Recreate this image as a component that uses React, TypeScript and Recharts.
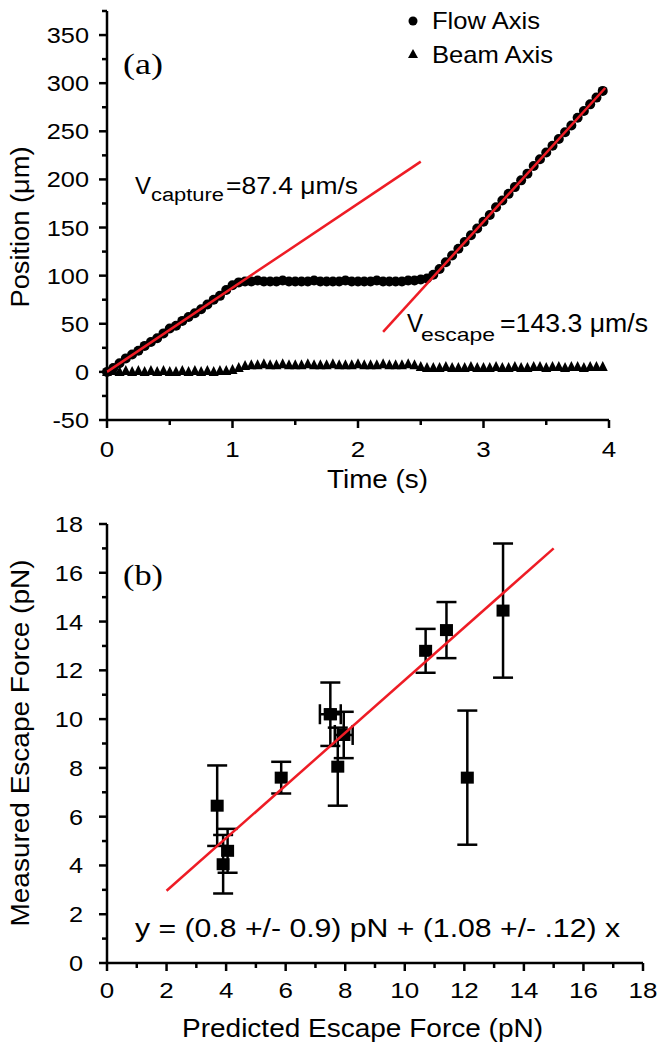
import React from 'react';
import { ScatterChart, Scatter, XAxis, YAxis, ErrorBar } from 'recharts';

// ---- panel (a): bead position vs time ----
const timeS = [
  0.0, 0.05, 0.1, 0.15, 0.2, 0.25, 0.3, 0.35, 0.4, 0.45,
  0.5, 0.55, 0.6, 0.65, 0.7, 0.75, 0.8, 0.85, 0.9, 0.95,
  1.0, 1.05, 1.1, 1.15, 1.2, 1.25, 1.3, 1.35, 1.4, 1.45,
  1.5, 1.55, 1.6, 1.65, 1.7, 1.75, 1.8, 1.85, 1.9, 1.95,
  2.0, 2.05, 2.1, 2.15, 2.2, 2.25, 2.3, 2.35, 2.4, 2.45,
  2.5, 2.55, 2.6, 2.65, 2.7, 2.75, 2.8, 2.85, 2.9, 2.95,
  3.0, 3.05, 3.1, 3.15, 3.2, 3.25, 3.3, 3.35, 3.4, 3.45,
  3.5, 3.55, 3.6, 3.65, 3.7, 3.75, 3.8, 3.85, 3.9, 3.95,
];
const flowPos = [
  0, 4, 9, 14, 18, 22, 27, 31, 35, 40,
  45, 48, 53, 57, 61, 65, 70, 75, 79, 85,
  90, 93, 94, 94, 95, 94, 94, 94, 95, 94,
  94, 94, 94, 95, 94, 94, 94, 94, 95, 94,
  94, 94, 94, 95, 94, 94, 94, 94, 95, 95,
  96, 97, 101, 107, 114, 121, 128, 135, 142, 149,
  156, 163, 171, 178, 185, 192, 199, 206, 214, 221,
  228, 235, 242, 249, 256, 264, 271, 278, 285, 292,
];
const beamPos = [
  0, 1, 0, 1, 0, 1, 0, 1, 0, 1,
  0, 0, 1, 0, 1, 0, 1, 0, 1, 1,
  2, 4, 6, 7, 7, 8, 7, 7, 8, 7,
  7, 7, 8, 7, 7, 7, 8, 7, 7, 7,
  8, 7, 7, 7, 8, 7, 7, 7, 8, 7,
  5, 4, 4, 4, 5, 4, 4, 4, 5, 4,
  4, 4, 5, 4, 4, 5, 4, 4, 5, 5,
  4, 5, 5, 4, 5, 5, 4, 5, 5, 5,
];
const captureFit = [{ x: 0, y: 0 }, { x: 2.5, y: 218.5 }];
const escapeFit = [{ x: 2.2, y: 41.5 }, { x: 3.97, y: 295 }];

const timeTicks = [0, 0.5, 1, 1.5, 2, 2.5, 3, 3.5, 4];
const timeMajor = [0, 1, 2, 3, 4];
const posTicks = [-50, -25, 0, 25, 50, 75, 100, 125, 150, 175, 200, 225, 250, 275, 300, 325, 350, 375];
const posMajor = [-50, 0, 50, 100, 150, 200, 250, 300, 350];

// ---- panel (b): measured vs predicted escape force ----
const predicted = [3.7, 3.9, 4.05, 5.85, 7.5, 7.75, 7.95, 10.7, 11.4, 12.1, 13.3];
const measured = [6.45, 4.05, 4.6, 7.6, 10.2, 8.05, 9.35, 12.8, 13.65, 7.6, 14.45];
const measuredErr = [1.65, 1.2, 0.9, 0.65, 1.3, 1.6, 0.95, 0.9, 1.15, 2.75, 2.75];
const predictedErr = [0, 0, 0, 0, 0.35, 0, 0.3, 0, 0, 0, 0];
const forceFit = [{ x: 2, y: 2.96 }, { x: 15, y: 17.0 }];

const forceTicks = [0, 1, 2, 3, 4, 5, 6, 7, 8, 9, 10, 11, 12, 13, 14, 15, 16, 17, 18];
const forceMajor = [0, 2, 4, 6, 8, 10, 12, 14, 16, 18];

const RED = '#ee1c25';
const SANS = '"Liberation Sans", Arial, sans-serif';

const flowData = timeS.map((t, i) => ({ x: t, y: flowPos[i] }));
const beamData = timeS.map((t, i) => ({ x: t, y: beamPos[i] }));
const forceData = predicted.map((p, i) => ({ x: p, y: measured[i], yErr: measuredErr[i] }));
const forceXErrData = predicted
  .map((p, i) => ({ x: p, y: measured[i], xErr: predictedErr[i] }))
  .filter((d) => d.xErr > 0);

const bottomTick = (majors: number[], off: number) => (props: any) => {
  const { x, y, payload } = props;
  const major = majors.includes(payload.value);
  return (
    <g>
      <line x1={x} y1={y} x2={x} y2={y + (major ? 8 : 5)} stroke="#000" strokeWidth={2.5} />
      {major && (
        <text transform={`translate(${x},${y + off}) scale(1.18,1)`} textAnchor="middle" fontSize={22} fontFamily={SANS} fill="#000">
          {payload.value}
        </text>
      )}
    </g>
  );
};

const leftTick = (majors: number[], off: number) => (props: any) => {
  const { x, y, payload } = props;
  const major = majors.includes(payload.value);
  return (
    <g>
      <line x1={x} y1={y} x2={x - (major ? 8 : 5)} y2={y} stroke="#000" strokeWidth={2.5} />
      {major && (
        <text transform={`translate(${x - off},${y + 8}) scale(1.15,1)`} textAnchor="end" fontSize={22} fontFamily={SANS} fill="#000">
          {payload.value}
        </text>
      )}
    </g>
  );
};

const Dot = (p: any) => <circle cx={p.cx} cy={p.cy} r={5} fill="#000" />;
const Tri = (p: any) => (
  <polygon points={`${p.cx},${p.cy - 6} ${p.cx - 5},${p.cy + 4} ${p.cx + 5},${p.cy + 4}`} fill="#000" />
);
const Square = (p: any) => <rect x={p.cx - 6.5} y={p.cy - 6} width={13} height={12} fill="#000" />;
const NoShape = () => <g />;

const axisLine = { stroke: '#000', strokeWidth: 2.5 };

export default function App() {
  return (
    <div style={{ position: 'absolute', left: 0, top: 0, width: 660, height: 1050, background: '#fff' }}>
      <div style={{ position: 'absolute', left: 0, top: 0 }}>
        <ScatterChart width={660} height={500} margin={{ top: 11, right: 51, bottom: 0, left: 0 }}>
          <XAxis
            type="number"
            dataKey="x"
            domain={[0, 4]}
            ticks={timeTicks}
            interval={0}
            height={80}
            tickSize={0}
            tickMargin={0}
            axisLine={axisLine}
            tickLine={false}
            tick={bottomTick(timeMajor, 37)}
          />
          <YAxis
            type="number"
            dataKey="y"
            domain={[-50, 375]}
            ticks={posTicks}
            interval={0}
            width={107}
            tickSize={0}
            tickMargin={0}
            axisLine={axisLine}
            tickLine={false}
            tick={leftTick(posMajor, 18)}
          />
          <Scatter data={beamData} shape={Tri} isAnimationActive={false} />
          <Scatter data={flowData} shape={Dot} isAnimationActive={false} />
          <Scatter data={captureFit} shape={NoShape} line={{ stroke: RED, strokeWidth: 2.5 }} isAnimationActive={false} />
          <Scatter data={escapeFit} shape={NoShape} line={{ stroke: RED, strokeWidth: 2.5 }} isAnimationActive={false} />
        </ScatterChart>
      </div>

      <div style={{ position: 'absolute', left: 0, top: 500 }}>
        <ScatterChart width={660} height={550} margin={{ top: 24, right: 17, bottom: 0, left: 0 }}>
          <XAxis
            type="number"
            dataKey="x"
            domain={[0, 18]}
            ticks={forceTicks}
            interval={0}
            height={87}
            tickSize={0}
            tickMargin={0}
            axisLine={axisLine}
            tickLine={false}
            tick={bottomTick(forceMajor, 35)}
          />
          <YAxis
            type="number"
            dataKey="y"
            domain={[0, 18]}
            ticks={forceTicks}
            interval={0}
            width={107}
            tickSize={0}
            tickMargin={0}
            axisLine={axisLine}
            tickLine={false}
            tick={leftTick(forceMajor, 24)}
          />
          <Scatter data={forceData} shape={Square} isAnimationActive={false}>
            <ErrorBar dataKey="yErr" direction="y" width={10} strokeWidth={2.5} stroke="#000" />
          </Scatter>
          <Scatter data={forceXErrData} shape={Square} isAnimationActive={false}>
            <ErrorBar dataKey="xErr" direction="x" width={10} strokeWidth={2.5} stroke="#000" />
          </Scatter>
          <Scatter data={forceFit} shape={NoShape} line={{ stroke: RED, strokeWidth: 2.5 }} isAnimationActive={false} />
        </ScatterChart>
      </div>

      <svg width={660} height={1050} style={{ position: 'absolute', left: 0, top: 0, pointerEvents: 'none' }}>
        <g fontFamily={SANS} fill="#000">
          {/* panel (a) */}
          <text x={123} y={74} fontFamily='"Liberation Serif", "Times New Roman", serif' fontSize={30} textLength={40} lengthAdjust="spacingAndGlyphs">(a)</text>
          <circle cx={413} cy={21} r={4.5} />
          <text x={432} y={29} fontSize={24} textLength={108} lengthAdjust="spacingAndGlyphs">Flow Axis</text>
          <polygon points="413,49 408,58 418,58" />
          <text x={432} y={63} fontSize={24} textLength={121} lengthAdjust="spacingAndGlyphs">Beam Axis</text>

          <text x={135} y={194} fontSize={24} textLength={16} lengthAdjust="spacingAndGlyphs">V</text>
          <text x={151} y={201} fontSize={18} textLength={73} lengthAdjust="spacingAndGlyphs">capture</text>
          <text x={226} y={194} fontSize={24} textLength={132} lengthAdjust="spacingAndGlyphs">=87.4 μm/s</text>

          <text x={407} y={332} fontSize={26} textLength={16} lengthAdjust="spacingAndGlyphs">V</text>
          <text x={421} y={341} fontSize={19} textLength={74} lengthAdjust="spacingAndGlyphs">escape</text>
          <text x={500} y={332} fontSize={26} textLength={148} lengthAdjust="spacingAndGlyphs">=143.3 μm/s</text>

          <text x={327} y={488} fontSize={26} textLength={101} lengthAdjust="spacingAndGlyphs">Time (s)</text>
          <text transform="translate(29,227) rotate(-90)" textAnchor="middle" fontSize={26} textLength={161} lengthAdjust="spacingAndGlyphs">Position (μm)</text>

          {/* panel (b) */}
          <text x={123} y={585} fontFamily='"Liberation Serif", "Times New Roman", serif' fontSize={30} textLength={40} lengthAdjust="spacingAndGlyphs">(b)</text>
          <text x={135} y={937} fontSize={25} textLength={485} lengthAdjust="spacingAndGlyphs">y = (0.8 +/- 0.9) pN + (1.08 +/- .12) x</text>
          <text x={182} y={1037} fontSize={26} textLength={361} lengthAdjust="spacingAndGlyphs">Predicted Escape Force (pN)</text>
          <text transform="translate(29,743) rotate(-90)" textAnchor="middle" fontSize={26} textLength={367} lengthAdjust="spacingAndGlyphs">Measured Escape Force (pN)</text>
        </g>
      </svg>
    </div>
  );
}
